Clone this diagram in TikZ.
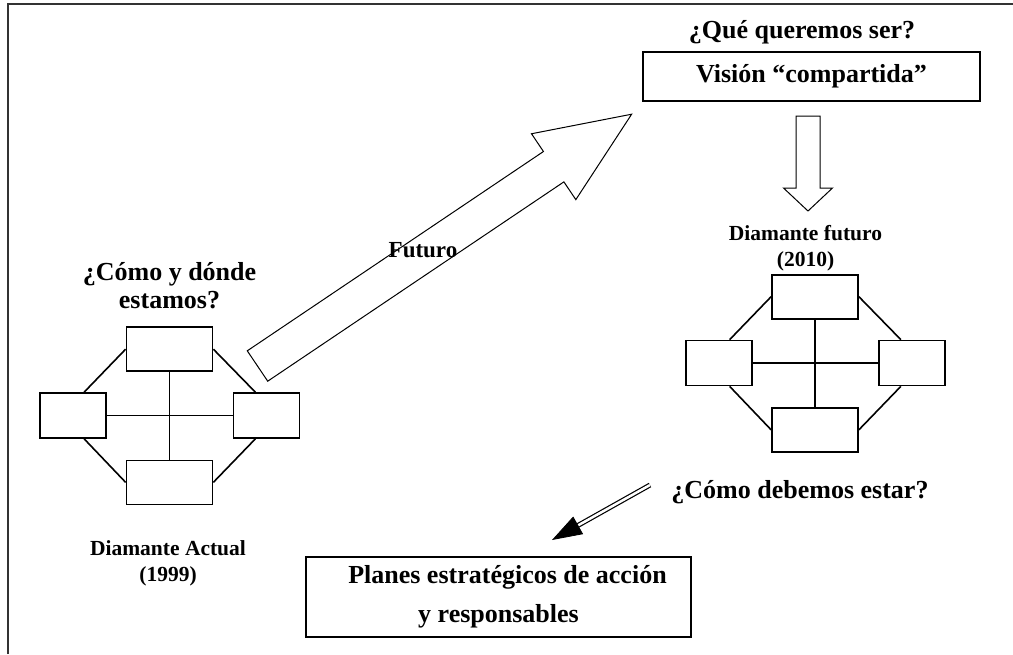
\documentclass[tikz,border=0pt]{standalone}
\usepackage{fontspec}
\setmainfont{Liberation Serif}
\usetikzlibrary{positioning,arrows.meta,calc}
\tikzset{
  caja/.style={rectangle,draw=black,line width=1.7pt,minimum width=86pt,
    minimum height=44pt,inner sep=0pt},
  lado/.style={caja,minimum width=66pt,minimum height=45pt},
  marco/.style={rectangle,draw=black,line width=1.6pt,align=center,inner sep=0pt},
  titulo/.style={font=\fontsize{26}{28}\selectfont\bfseries,inner sep=0pt,align=center},
  rotulo/.style={font=\fontsize{21.5}{26}\selectfont\bfseries,inner sep=0pt,align=center},
  enlace/.style={line width=1.6pt},
  hueca/.style={draw=black,line width=1pt,fill=white},
  doble/.style={draw=black,line width=1.2pt,double distance=2.5pt},
}

\begin{document}
\begin{tikzpicture}[x=1pt,y=-1pt]
  \useasboundingbox (0,0) rectangle (1013,654);
  \draw[line width=1.8pt,black!80] (8,654) -- (8,4) -- (1013,4);
  % los dos diamantes
  \foreach \d/\cx/\cy in {act/169.5/415.5,fut/815/363} {
    \coordinate (\d) at (\cx,\cy);
    \node[caja,above=43.5pt of \d] (\d-arr) {};
    \node[caja,below=44pt of \d] (\d-aba) {};
    \node[lado,left=62.5pt of \d] (\d-izq) {};
    \node[lado,right=63pt of \d] (\d-der) {};
    \draw[enlace] (\d-arr) -- (\d-aba);
    \draw[enlace] (\d-izq) -- (\d-der);
    \draw[enlace] (\d-arr.west) -- ($(\d-izq.north)+(11,0)$);
    \draw[enlace] (\d-arr.east) -- ($(\d-der.north)+(-11,0)$);
    \draw[enlace] ($(\d-izq.south)+(11,0)$) -- (\d-aba.west);
    \draw[enlace] ($(\d-der.south)+(-11,0)$) -- (\d-aba.east);
  }
  \node[titulo,above=17pt of act-arr] (estamos) {¿Cómo y dónde\\estamos?};
  \node[rotulo] (actual) at (168,563) {Diamante Actual\\(1999)};
  \node[rotulo] (futuro) at (805.5,248) {Diamante futuro\\(2010)};
  \node[titulo] (queremos) at (802,32) {¿Qué queremos ser?};
  \node[marco,titulo,minimum width=337pt,minimum height=49pt] (vision) at (811.5,76.5) {Visión “compartida”};
  \node[marco,titulo,minimum width=385pt,minimum height=80pt] (planes) at (498.5,597)
    {\hspace*{18pt}Planes estratégicos de acción\\[11pt]y responsables};
  \node[titulo] (debemos) at (800,492) {¿Cómo debemos estar?};
  % flecha grande hacia la vision
  \begin{scope}[shift={(257.5,366)},rotate=33.94]
    \draw[hueca] (0,-18.3) -- (357,-18.3) -- (357,-39.7) -- (451,0) -- (357,39.7)
      -- (357,18.3) -- (0,18.3) -- cycle;
  \end{scope}
  \node[titulo,font=\fontsize{23}{28}\selectfont\bfseries] (lblfuturo) at (423,250) {Futuro};
  % flecha hacia abajo
  \begin{scope}[shift={(808,116)}]
    \draw[hueca] (-12,0) -- (12,0) -- (12,72) -- (24.5,72) -- (0,95) -- (-24.5,72)
      -- (-12,72) -- cycle;
  \end{scope}
  % flecha doble hacia los planes
  \coordinate (dobleini) at (650,485);
  \coordinate (doblefin) at (552,540);
  \draw[doble] (dobleini) -- ($(doblefin)!26pt!(dobleini)$);
  \draw[-{Triangle[length=30pt,width=20pt]},line width=0.8pt]
    ($(doblefin)!28pt!(dobleini)$) -- (doblefin);
\end{tikzpicture}
\end{document}
